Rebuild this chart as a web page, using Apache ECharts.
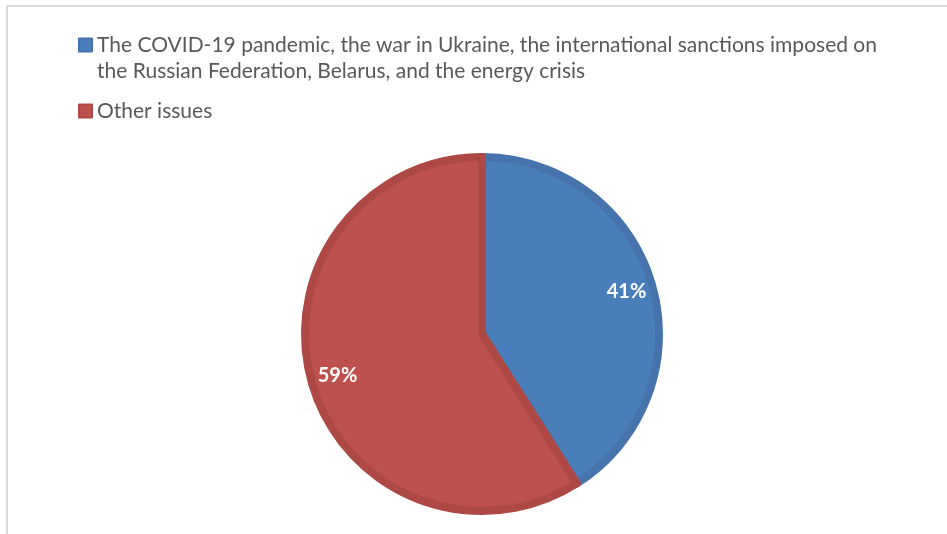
<!DOCTYPE html>
<html>
<head>
<meta charset="utf-8">
<script src="https://cdn.jsdelivr.net/npm/echarts@6/dist/echarts.min.js"></script>
<style>
  html, body { margin: 0; padding: 0; background: #fff; }
  #chart { width: 947px; height: 534px; }
</style>
</head>
<body>
<div id="chart"></div>
<script>
// share of issues, percent
const categories = [
  'The COVID-19 pandemic, the war in Ukraine, the international sanctions imposed on the Russian Federation, Belarus, and the energy crisis',
  'Other issues'
]
const values = [41, 59]
const colors = ['#4a7ebb', '#be504d']
const borderColors = ['#4673ab', '#ae4845']

const chart = echarts.init(document.getElementById('chart'))

const pieData = categories.map((name, i) => ({
  name: name,
  value: values[i],
  itemStyle: { color: colors[i], borderColor: borderColors[i] }
}))

// legend text wraps after "imposed on"; an empty top line keeps the
// marker level with the first line (ECharts centres text on the marker)
function wrapName(name) {
  if (name.indexOf(' imposed on ') < 0) return '{t|' + name + '}'
  const parts = name.split(' imposed on ')
  return '{gap| }\n{t|' + parts[0] + ' imposed on}\n{t|' + parts[1] + '}'
}

chart.setOption({
  animation: false,
  graphic: [{
    type: 'polyline',
    shape: { points: [[7, 534], [7, 6], [947, 6]] },
    style: { stroke: '#d9d9d9', lineWidth: 2, fill: null }
  }],
  legend: {
    orient: 'vertical',
    left: 78,
    top: 14,
    padding: 0,
    icon: 'rect',
    itemWidth: 13,
    itemHeight: 13,
    itemGap: 19,
    selectedMode: false,
    formatter: wrapName,
    data: categories,
    textStyle: {
      fontFamily: 'Lato',
      fontSize: 21,
      color: '#595959',
      rich: {
        t: { fontFamily: 'Lato', fontSize: 21, color: '#595959', lineHeight: 26 },
        gap: { fontSize: 10, lineHeight: 26 }
      }
    }
  },
  series: [
    {
      type: 'pie',
      center: [482, 334],
      radius: 177,
      startAngle: 90,
      clockwise: true,
      silent: true,
      itemStyle: { borderWidth: 8 },
      label: { show: false },
      labelLine: { show: false },
      data: pieData
    },
    {
      // transparent ring used only to place the percent labels at ~0.8 R
      type: 'pie',
      center: [482, 334],
      radius: [110, 185],
      startAngle: 90,
      clockwise: true,
      silent: true,
      itemStyle: { color: 'rgba(0,0,0,0)', borderWidth: 0 },
      label: {
        show: true,
        position: 'inside',
        formatter: '{c}%',
        color: '#fff',
        fontFamily: 'Lato',
        fontWeight: 'bold',
        fontSize: 20
      },
      labelLine: { show: false },
      data: categories.map((name, i) => ({ name: name, value: values[i] }))
    }
  ]
})
</script>
</body>
</html>
